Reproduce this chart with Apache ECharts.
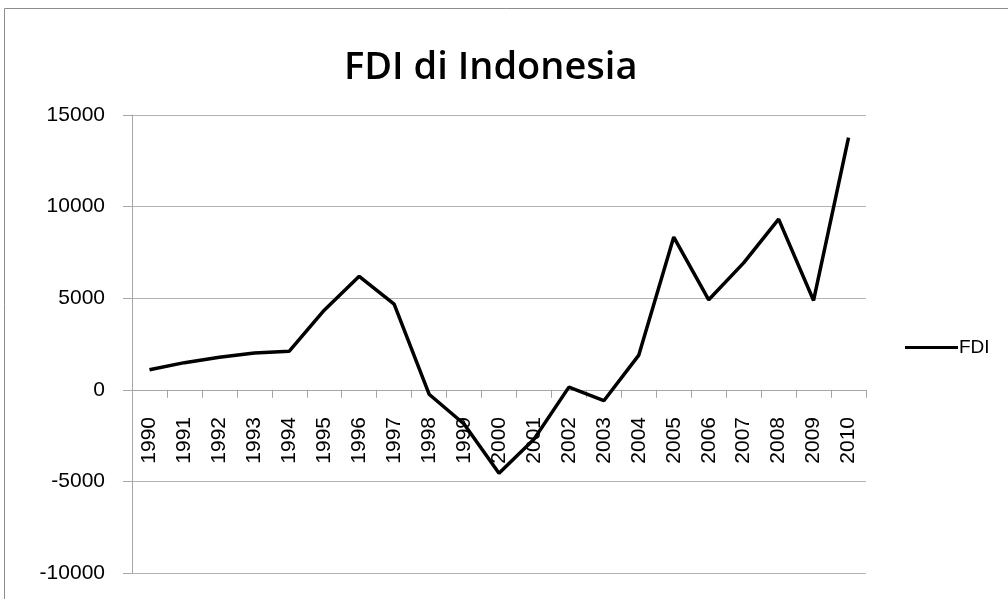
<!DOCTYPE html>
<html><head><meta charset="utf-8">
<script src="https://cdn.jsdelivr.net/npm/echarts@6/dist/echarts.min.js"></script>
<style>html,body{margin:0;padding:0;background:#fff;}#c{width:1008px;height:599px;}</style>
</head><body><div id="c"></div>
<script>
const years = ['1990','1991','1992','1993','1994','1995','1996','1997','1998','1999','2000','2001','2002','2003','2004','2005','2006','2007','2008','2009','2010'];
const fdi = [1093,1482,1777,2004,2109,4346,6194,4678,-241,-1866,-4550,-2700,145,-597,1896,8336,4914,6928,9318,4877,13771];
const yTicks = {min:-10000, max:15000, interval:5000};
const font = '"Liberation Sans", sans-serif';
const chart = echarts.init(document.getElementById('c'));
chart.setOption({
  animation:false,
  backgroundColor:'#fff',
  title:{text:'FDI di Indonesia', left:339, top:44, textStyle:{fontFamily:'"Open Sans", sans-serif', fontSize:38, fontWeight:'600', color:'#000'}},
  legend:{data:['FDI'], left:900, top:333, orient:'vertical', itemWidth:53, itemHeight:14, itemGap:0,
    icon:'path://M0,5.5 L53,5.5 L53,8.5 L0,8.5 Z',
    textStyle:{fontFamily:font, fontSize:19, color:'#000', padding:[0,0,0,-4]}},
  grid:{left:132, right:142, top:115, bottom:26, containLabel:false, outerBoundsMode:'none'},
  xAxis:{type:'category', data:years, boundaryGap:true,
    axisLine:{onZero:true, lineStyle:{color:'#a6a6a6', width:1}},
    axisTick:{show:true, length:8, lineStyle:{color:'#a6a6a6'}},
    axisLabel:{rotate:90, margin:-156, fontFamily:font, fontSize:21, color:'#000', interval:0}},
  yAxis:{type:'value', min:yTicks.min, max:yTicks.max, interval:yTicks.interval,
    axisLine:{show:true, lineStyle:{color:'#a6a6a6'}},
    axisTick:{show:true, length:9, lineStyle:{color:'#a6a6a6'}},
    splitLine:{lineStyle:{color:'#b3b3b3', width:1}},
    axisLabel:{margin:27, fontFamily:font, fontSize:21, color:'#000', formatter: v => String(v)}},
  series:[{name:'FDI', type:'line', data:fdi, symbol:'none', lineStyle:{color:'#000', width:3.5}, itemStyle:{color:'#000'}}],
  graphic:[{type:'rect', shape:{x:4.5, y:8.5, width:1100, height:700}, style:{fill:'none', stroke:'#8c8c8c', lineWidth:1}, silent:true, z:-1}]
});
</script></body></html>
